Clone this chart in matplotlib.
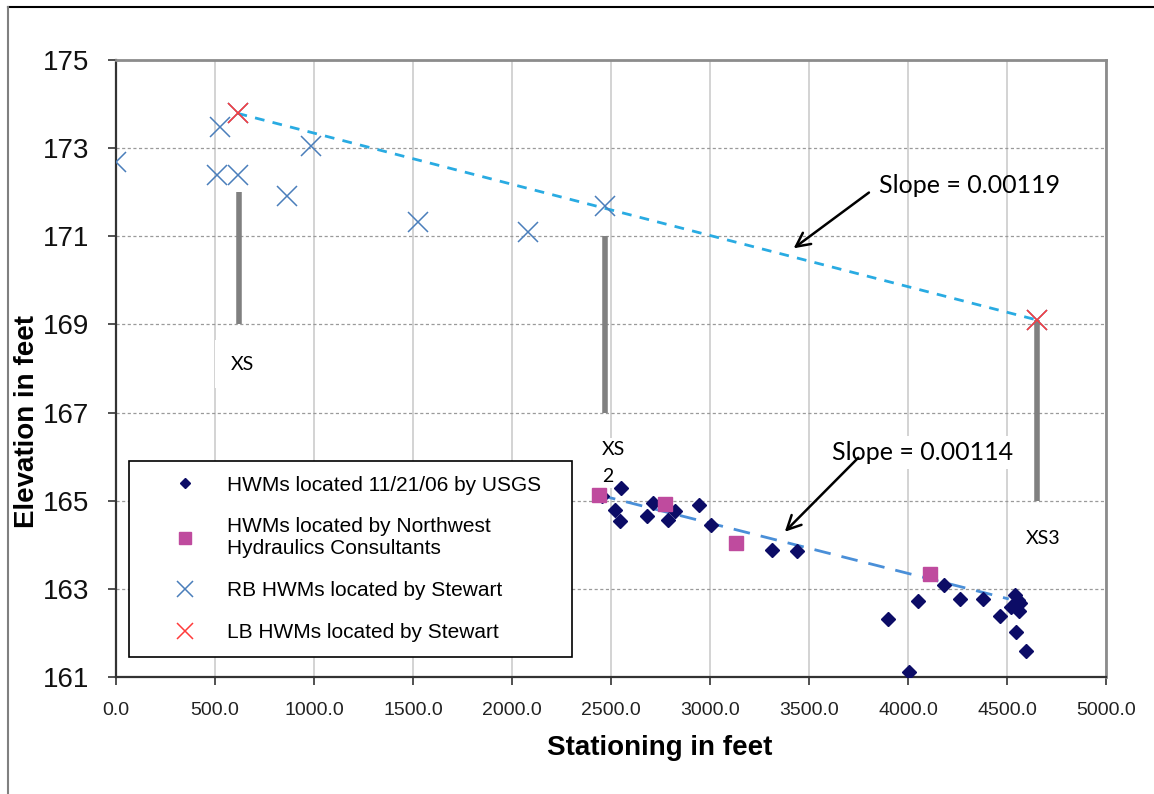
import matplotlib.pyplot as plt
from matplotlib.lines import Line2D

plt.rcParams['font.family'] = ['Liberation Sans', 'DejaVu Sans']

# HWMs located 11/21/06 by USGS
usgs_x = [2455, 2550, 2521, 2545, 2682, 2711, 2789, 2825, 2943, 3005, 3311, 3439,
          3898, 4004, 4050, 4182, 4262, 4379, 4464, 4539, 4521, 4568, 4554, 4563,
          4546, 4595]
usgs_y = [165.11, 165.28, 164.80, 164.55, 164.66, 164.95, 164.57, 164.77, 164.91,
          164.45, 163.89, 163.85, 162.31, 161.11, 162.73, 163.09, 162.78, 162.78,
          162.38, 162.85, 162.58, 162.68, 162.74, 162.49, 162.03, 161.59]

# HWMs located by Northwest Hydraulics Consultants
nhc_x = [2440, 2773, 3132, 4111]
nhc_y = [165.13, 164.92, 164.03, 163.34]

# RB / LB HWMs located by Stewart
rb_x = [0, 512, 527, 614, 618, 865, 985, 1525, 2081, 2471, 4652]
rb_y = [172.68, 172.40, 173.47, 173.79, 172.40, 171.91, 173.06, 171.32, 171.10, 171.68, 169.10]
lb_x = [614, 4652]
lb_y = [173.79, 169.10]

# trend lines
upper_trend_x = [614, 4652]
upper_trend_y = [173.79, 169.10]
lower_trend_x = [2440, 4509]
lower_trend_y = [165.13, 162.77]

# cross sections: station, bottom, top
xs_x = [620, 2471, 4652]
xs_bottom = [169.0, 167.0, 165.0]
xs_top = [172.0, 171.0, 169.1]

fig = plt.figure(figsize=(11.54, 7.94), dpi=100)
ax = fig.add_axes([0.1005, 0.1474, 0.8579, 0.777])

ax.set_xlim(0, 5000)
ax.set_ylim(161, 175)
ax.set_xticks(range(0, 5001, 500))
ax.set_xticklabels(['%.1f' % v for v in range(0, 5001, 500)])
ax.set_yticks(range(161, 176, 2))

ax.grid(axis='x', color='#C8C8C8', lw=1.1, zorder=0)
ax.grid(axis='y', color='#9A9A9A', lw=0.9, ls=(0, (2.5, 2)), zorder=0)
ax.set_axisbelow(True)

for s in ['top', 'right']:
    ax.spines[s].set_color('#8C8C8C')
    ax.spines[s].set_linewidth(2)
for s in ['left', 'bottom']:
    ax.spines[s].set_color('#333333')
    ax.spines[s].set_linewidth(1.6)

ax.tick_params(direction='out', length=6, width=1.2, color='#333333')
ax.tick_params(axis='y', labelsize=20, pad=13, labelcolor='#111111')
ax.tick_params(axis='x', labelsize=14, pad=12, labelcolor='#222222')

# cross-section bars
for x, b, t in zip(xs_x, xs_bottom, xs_top):
    ax.plot([x, x], [b, t], color='#808080', lw=4, solid_capstyle='butt', zorder=2)

ax.text(580, 168.1, 'XS', fontsize=14, family='Lato', va='center', ha='left',
        bbox=dict(boxstyle='square,pad=0.8', fc='white', ec='none'), zorder=1.5)
ax.text(2455, 165.85, 'XS\n2', fontsize=14, family='Lato', va='center', ha='left',
        linespacing=1.7, bbox=dict(boxstyle='square,pad=0.15', fc='white', ec='none'), zorder=1.5)
ax.text(4595, 164.15, 'XS3', fontsize=14, family='Lato', va='center', ha='left', zorder=3)

# trend lines
ax.plot(upper_trend_x, upper_trend_y, color='#29ABE2', lw=2, ls=(0, (3.5, 3)), zorder=3)
ax.plot(lower_trend_x, lower_trend_y, color='#4A8FD8', lw=2, ls=(0, (6, 4)), zorder=3)

# data
ax.plot(usgs_x, usgs_y, 'D', color='#0C0C66', ms=7, ls='none', zorder=4,
        label='HWMs located 11/21/06 by USGS')
ax.plot(nhc_x, nhc_y, 's', color='#BF4B9E', ms=10, ls='none', zorder=5,
        label='HWMs located by Northwest\nHydraulics Consultants')
ax.plot(rb_x, rb_y, 'x', color='#4A7EBB', ms=14, mew=1.1, ls='none', zorder=5,
        label='RB HWMs located by Stewart')
ax.plot(lb_x, lb_y, 'x', color='#FF3B3B', ms=14, mew=1.1, ls='none', zorder=6,
        label='LB HWMs located by Stewart')

# slope annotations
ax.text(3855, 172.16, 'Slope = 0.00119', fontsize=18, family='Lato', va='center', ha='left', zorder=3)
ax.annotate('', xy=(3411, 170.69), xytext=(3814, 172.03),
            arrowprops=dict(arrowstyle='->', color='black', lw=1.8, mutation_scale=25), zorder=6)
ax.text(3618, 166.1, 'Slope = 0.00114', fontsize=18, family='Lato', va='center', ha='left',
        bbox=dict(boxstyle='square,pad=0.2', fc='white', ec='none'), zorder=1.5)
ax.annotate('', xy=(3368, 164.25), xytext=(3759, 166.02),
            arrowprops=dict(arrowstyle='->', color='black', lw=1.8, mutation_scale=25), zorder=6)

leg = ax.legend(loc='upper left', bbox_to_anchor=(129 / 1154, 1 - 461 / 794, 443 / 1154, 0),
                bbox_transform=fig.transFigure, mode='expand', fontsize=15,
                frameon=True, fancybox=False, framealpha=1, edgecolor='black',
                borderpad=0.7, labelspacing=1.1, handlelength=4.0, handletextpad=0.0,
                borderaxespad=0, markerscale=0.8)
leg.get_frame().set_linewidth(1.2)
leg.set_zorder(7)

fig.text(660 / 1154, 1 - 748 / 794, 'Stationing in feet', fontsize=20, fontweight='bold',
         ha='center', va='center')
fig.text(27 / 1154, 1 - 422 / 794, 'Elevation in feet', fontsize=20, fontweight='bold',
         ha='center', va='center', rotation=90)

# outer frame
fig.add_artist(Line2D([8 / 1154, 1], [1 - 7 / 794, 1 - 7 / 794], color='black', lw=1.5,
                      transform=fig.transFigure))
fig.add_artist(Line2D([8 / 1154, 8 / 1154], [0, 1 - 7 / 794], color='#808080', lw=1.5,
                      transform=fig.transFigure))

fig.savefig('out.png', dpi=100)
